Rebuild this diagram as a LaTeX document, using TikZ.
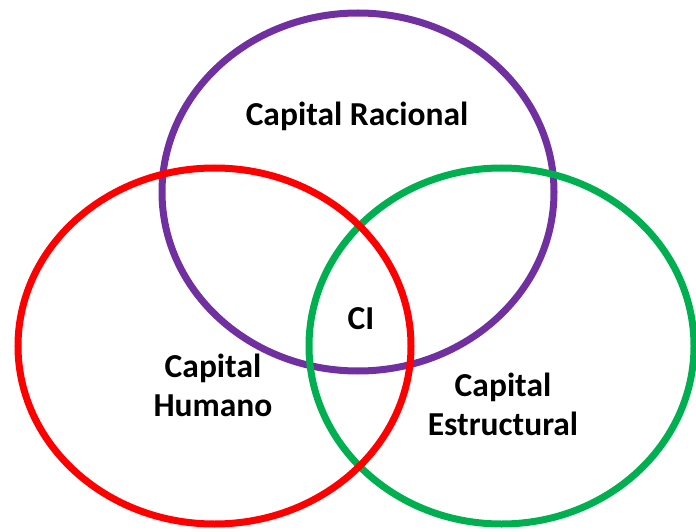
\documentclass[tikz,border=0pt]{standalone}
\usepackage{fontspec}
\setmainfont{Carlito}
\definecolor{vpurple}{HTML}{7030A0}
\definecolor{vred}{HTML}{FF0000}
\definecolor{vgreen}{HTML}{00B050}
\newcommand\myvennfont{\fontsize{33.5pt}{39pt}\selectfont\bfseries}
\begin{document}
\begin{tikzpicture}[x=1pt,y=1pt,
  ring/.style={line width=7pt},
  lbl/.style={font=\myvennfont, align=center, text=black, inner sep=0pt}]
\useasboundingbox (0,0) rectangle (696,531);
\draw[ring, vpurple] (358,339) ellipse [x radius=196, y radius=179];
\draw[ring, vgreen] (501.5,185) ellipse [x radius=192.5, y radius=178];
\draw[ring, vred] (214.5,185) ellipse [x radius=196.5, y radius=178];
\node[lbl] (cr) at (357,415) {Capital Racional};
\node[lbl] (ci) at (361,212) {CI};
\node[lbl] (ch) at (213,146) {Capital\\Humano};
\node[lbl] (ce) at (503,127) {Capital\\Estructural};
\end{tikzpicture}
\end{document}
